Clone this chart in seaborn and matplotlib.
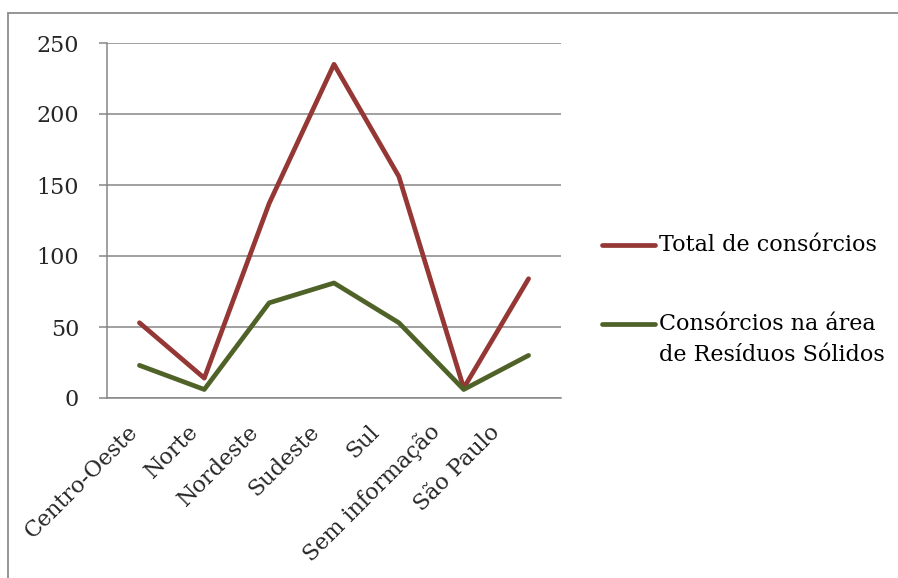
import matplotlib
matplotlib.use("Agg")
import matplotlib.pyplot as plt
from matplotlib.lines import Line2D
from matplotlib.patches import Rectangle
import seaborn as sns
import pandas as pd

# Data
regioes = ["Centro-Oeste", "Norte", "Nordeste", "Sudeste", "Sul",
           "Sem informação", "São Paulo"]
total_consorcios = [53, 14, 137, 235, 156, 7, 84]
consorcios_residuos = [23, 6, 67, 81, 53, 6, 30]
serie_total = "Total de consórcios"
serie_residuos = "Consórcios na área\nde Resíduos Sólidos"

df = pd.DataFrame({
    "pos": list(range(len(regioes))) * 2,
    "valor": total_consorcios + consorcios_residuos,
    "serie": [serie_total] * len(regioes) + [serie_residuos] * len(regioes),
})

sns.set_theme(style="white")
plt.rcParams["font.family"] = ["DejaVu Serif"]
FS = 16

W, H = 898, 578
fig = plt.figure(figsize=(W / 100, H / 100), dpi=100)
ax = fig.add_axes([107 / W, 1 - 398 / H, (561 - 107) / W, (398 - 43) / H])

cores = {serie_total: "#953735", serie_residuos: "#4f6228"}
sns.lineplot(data=df, x="pos", y="valor", hue="serie", palette=cores,
             linewidth=3.4, ax=ax, legend=False, sort=False)
for ln in ax.lines:
    ln.set_solid_capstyle("round")
    ln.set_solid_joinstyle("round")

grid_col = "#868686"
ax.set_ylim(0, 250)
ax.set_xlim(-0.5, len(regioes) - 0.5)
ax.set_yticks(range(0, 251, 50))
ax.yaxis.grid(True, color=grid_col, linewidth=1.1)
ax.set_axisbelow(True)

# rotated category labels (slightly tighter spacing than the categories),
# tick marks at the category boundaries
ax.set_xticks([0.93 * i - 0.07 for i in range(len(regioes))])
ax.set_xticklabels(regioes, rotation=45, ha="right", va="center",
                   rotation_mode="anchor", fontsize=FS)
ax.set_xticks([i - 0.5 for i in range(len(regioes) + 1)], minor=True)
ax.tick_params(axis="x", which="major", length=0, pad=22)
ax.tick_params(axis="x", which="minor", length=6, width=1.1,
               color=grid_col, direction="out")
ax.tick_params(axis="y", length=6, width=1.1, color=grid_col,
               direction="out", pad=14, labelsize=FS, left=True)
ax.set_xlabel("")
ax.set_ylabel("")

for s in ["top", "right"]:
    ax.spines[s].set_visible(False)
for s in ["left", "bottom"]:
    ax.spines[s].set_color(grid_col)
    ax.spines[s].set_linewidth(1.1)

# Outer chart border
fig.patches.append(Rectangle((8 / W, -0.05), 1.05, 1 - 13 / H + 0.05,
                             transform=fig.transFigure, fill=False,
                             edgecolor="#8c8c8c", linewidth=1.3))

# Legend
def item(y_px, serie, text):
    y = 1 - y_px / H
    fig.add_artist(Line2D([602 / W, 655 / W], [y, y], color=cores[serie],
                          linewidth=3.4, solid_capstyle="round",
                          transform=fig.transFigure))
    fig.text(659 / W, y, text, fontsize=FS, va="center", ha="left",
             color="black")

item(245, serie_total, serie_total)
item(324, serie_residuos, "Consórcios na área")
fig.text(659 / W, 1 - 355 / H, "de Resíduos Sólidos", fontsize=FS,
         va="center", ha="left", color="black")

fig.savefig("out.png", dpi=100)
